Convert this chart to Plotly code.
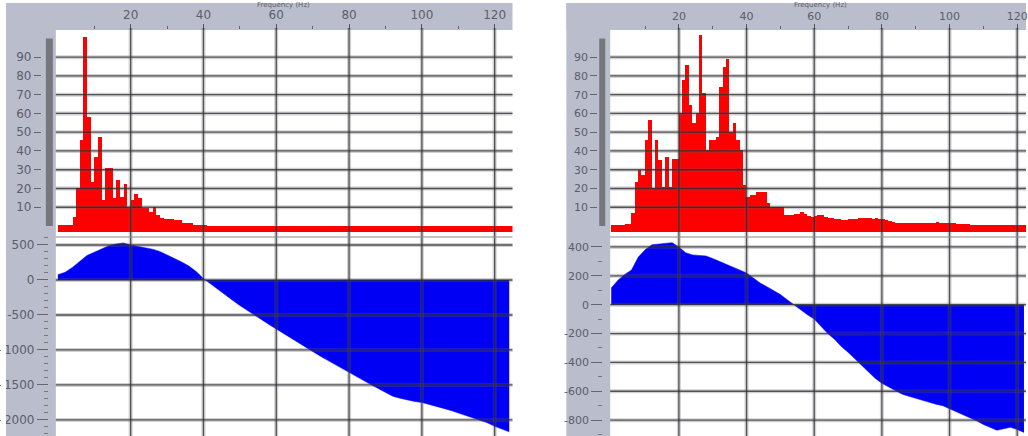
import plotly.graph_objects as go

W, H = 1028, 436

# ---------------- data ----------------
AXIS_TITLE = "Frequency (Hz)"

FREQ_TICKS = [20, 40, 60, 80, 100, 120]
FREQ_TICK_LABELS = ["20", "40", "60", "80", "100", "120"]
FREQ_MINOR_TICKS = [10, 30, 50, 70, 90, 110]

COUNT_TICKS = [10, 20, 30, 40, 50, 60, 70, 80, 90]
COUNT_TICK_LABELS = ["10", "20", "30", "40", "50", "60", "70", "80", "90"]

LEFT_PHASE_TICKS = [500, 0, -500, -1000, -1500, -2000]
LEFT_PHASE_LABELS = ["500", "0", "-500", "-1000", "-1500", "-2000"]
RIGHT_PHASE_TICKS = [400, 200, 0, -200, -400, -600, -800]
RIGHT_PHASE_LABELS = ["400", "200", "0", "-200", "-400", "-600", "-800"]

# histogram counts, 1 Hz bins starting at 0 Hz
LEFT_COUNTS = [
    0.3, 0.4, 0.5, 0.8, 5.0, 20.0, 46.0, 101.0, 58.0, 23.6,
    37.0, 47.6, 14.0, 30.8, 30.8, 15.0, 24.5, 15.6, 22.4, 10.3,
    13.9, 16.9, 14.8, 9.4, 9.4, 7.6, 10.3, 5.9, 4.2, 4.0,
    4.0, 3.8, 3.2, 3.2, 1.8, 1.8, 1.8, 0.5, 0.5, 0.5,
    0.3, 0.2, 0.2, 0.2, 0.2, 0.2, 0.1, 0.1, 0.1, 0.1,
    0.1, 0.1, 0.1, 0.1, 0.1, 0.1, 0.1, 0.1, 0.1, 0.1,
    0.1, 0.1, 0.1, 0.1, 0.1, 0.1, 0.1, 0.1, 0.1, 0.1,
    0.1, 0.1, 0.1, 0.1, 0.1, 0.1, 0.1, 0.1, 0.1, 0.1,
    0.1, 0.1, 0.1, 0.1, 0.1, 0.1, 0.1, 0.1, 0.1, 0.1,
    0.1, 0.1, 0.1, 0.1, 0.1, 0.1, 0.1, 0.1, 0.1, 0.1,
    0.0, 0.0, 0.0, 0.0, 0.0, 0.0, 0.0, 0.0, 0.0, 0.0,
    0.0, 0.0, 0.0, 0.0, 0.0, 0.0, 0.0, 0.0, 0.0, 0.0,
    0.0, 0.0, 0.0, 0.0, 0.0,
]

RIGHT_COUNTS = [
    0.5, 0.6, 0.7, 0.8, 1.0, 1.2, 6.7, 23.6, 30.0, 27.0,
    46.0, 56.5, 20.0, 46.0, 35.0, 21.0, 37.0, 21.0, 35.5, 35.5,
    60.0, 78.0, 86.0, 64.5, 55.0, 60.0, 102.0, 71.0, 40.5, 46.0,
    46.0, 47.6, 74.0, 85.0, 89.0, 50.0, 55.0, 46.0, 40.5, 22.0,
    15.6, 16.5, 16.5, 18.3, 18.3, 18.3, 12.0, 10.3, 10.3, 10.3,
    10.3, 5.9, 5.9, 5.9, 6.2, 6.5, 7.6, 6.5, 5.5, 5.0,
    5.5, 5.9, 5.9, 5.0, 4.5, 4.1, 3.8, 3.5, 3.2, 3.3,
    3.5, 3.8, 4.0, 4.1, 4.1, 4.3, 4.1, 4.0, 4.1, 4.0,
    3.5, 3.0, 2.5, 2.0, 1.8, 1.8, 1.7, 1.6, 1.6, 1.5,
    1.5, 1.5, 1.6, 1.7, 1.8, 1.8, 1.9, 1.8, 1.8, 1.8,
    1.7, 1.5, 1.3, 1.1, 1.0, 0.9, 0.8, 0.6, 0.5, 0.5,
    0.5, 0.5, 0.4, 0.4, 0.4, 0.4, 0.4, 0.3, 0.3, 0.3,
    0.3, 0.3, 0.3,
]

# phase curves, sampled every 2 Hz starting at 0 Hz
LEFT_PHASE = [
    75, 110, 180, 260, 350, 395, 445, 490, 515, 530,
    500, 480, 462, 440, 408, 360, 310, 258, 200, 120,
    20, -60, -140, -215, -290, -365, -435, -505, -570, -635,
    -700, -765, -830, -900, -960, -1025, -1085, -1145, -1205, -1265,
    -1325, -1385, -1440, -1495, -1550, -1600, -1660, -1690, -1715, -1735,
    -1750, -1775, -1805, -1835, -1865, -1900, -1945, -1975, -2005, -2040,
    -2090, -2130, -2170,
]

RIGHT_PHASE = [
    115, 170, 210, 240, 330, 380, 415, 420, 425, 430,
    400, 360, 345, 340, 338, 320, 300, 282, 265, 240,
    220, 185, 150, 125, 100, 70, 35, 0, -40, -70,
    -100, -150, -200, -240, -290, -330, -375, -420, -460, -510,
    -545, -570, -600, -620, -635, -650, -665, -675, -690, -700,
    -720, -740, -760, -780, -805, -830, -850, -870, -860, -850,
    -865, -885,
]

# ---------------- styling ----------------
RED = "#ff0000"
BLUE = "#0000f4"
FRAME = "#b9bdcc"
TXT = "#5d5e6b"
FONT = "DejaVu Sans"
BAR_FLOOR = -3.2


def px(xp):
    return xp / W


def py(yp):
    return 1 - yp / H


fig = go.Figure()

panels = [
    dict(xa="x", ya="y", xb="x2", yb="y2", counts=LEFT_COUNTS, phase=LEFT_PHASE,
         left=55, right=513, frame_left=5, xrange=[-0.55, 124.9],
         cnt_pos=40, bar=(45, 52), ph_pos=47, ph_range=[-2229, 614],
         ph_ticks=LEFT_PHASE_TICKS, ph_labels=LEFT_PHASE_LABELS, fs=12),
    dict(xa="x3", ya="y3", xb="x4", yb="y4", counts=RIGHT_COUNTS, phase=RIGHT_PHASE,
         left=611, right=1028, frame_left=567, xrange=[-0.3, 122.6],
         cnt_pos=598, bar=(600, 606), ph_pos=603, ph_range=[-910, 469],
         ph_ticks=RIGHT_PHASE_TICKS, ph_labels=RIGHT_PHASE_LABELS, fs=11),
]

TOP_T, TOP_B = 30, 232
BOT_T, BOT_B = 237, 436

shapes = []
annotations = []
layout_axes = {}

for i, p in enumerate(panels):
    n = 2 * i
    xa_name = "xaxis" + ("" if n == 0 else str(n + 1))
    ya_name = "yaxis" + ("" if n == 0 else str(n + 1))
    xb_name = "xaxis" + str(n + 2)
    yb_name = "yaxis" + str(n + 2)
    dom = [px(p["left"]), px(p["right"])]

    fig.add_trace(go.Bar(
        x0=0.5, dx=1,
        y=[c - BAR_FLOOR for c in p["counts"]], base=BAR_FLOOR,
        marker=dict(color=RED, line=dict(width=0)),
        xaxis=p["xa"], yaxis=p["ya"], hoverinfo="skip",
    ))
    fig.add_trace(go.Scatter(
        x0=0, dx=2, y=p["phase"], mode="lines",
        line=dict(color=BLUE, width=0.5), fill="tozeroy", fillcolor=BLUE,
        xaxis=p["xb"], yaxis=p["yb"], hoverinfo="skip",
    ))

    tickfont = dict(family=FONT, size=p["fs"], color=TXT)
    layout_axes[xa_name] = dict(
        domain=dom, range=p["xrange"], anchor=p["ya"], side="top",
        tickvals=FREQ_TICKS, ticktext=FREQ_TICK_LABELS,
        ticks="outside", ticklen=5, tickwidth=1, tickcolor="#555",
        ticklabelstandoff=0, ticklabeloverflow="allow",
        minor=dict(tickvals=FREQ_MINOR_TICKS, ticks="outside", ticklen=3,
                   tickcolor="#666", showgrid=False),
        showgrid=False, zeroline=False, showline=False, tickfont=tickfont,
    )
    layout_axes[ya_name] = dict(
        domain=[py(TOP_B), py(TOP_T)], range=[BAR_FLOOR, 104.5],
        anchor="free", position=px(p["cnt_pos"]),
        tickvals=COUNT_TICKS, ticktext=COUNT_TICK_LABELS,
        ticks="outside", ticklen=7, tickcolor="#666",
        showgrid=False, zeroline=False, showline=False, tickfont=tickfont,
    )
    layout_axes[xb_name] = dict(
        domain=dom, range=p["xrange"], anchor=p["yb"], matches=p["xa"],
        showticklabels=False, ticks="", showgrid=False, zeroline=False, showline=False,
    )
    layout_axes[yb_name] = dict(
        domain=[py(BOT_B), py(BOT_T)], range=p["ph_range"],
        anchor="free", position=px(p["ph_pos"]),
        tickvals=p["ph_ticks"], ticktext=p["ph_labels"],
        ticks="outside", ticklen=11, tickcolor="#666",
        minor=dict(dtick=100, tick0=0, ticks="outside", ticklen=4,
                   tickcolor="#777", showgrid=False),
        showgrid=False, zeroline=False, showline=False, tickfont=tickfont,
    )

    # grey frame (left band + top band)
    shapes.append(dict(type="rect", xref="paper", yref="paper", layer="below",
                       x0=px(p["frame_left"]), x1=px(p["left"]),
                       y0=py(H), y1=py(3), fillcolor=FRAME, line=dict(width=0)))
    shapes.append(dict(type="rect", xref="paper", yref="paper", layer="below",
                       x0=px(p["frame_left"]), x1=px(p["right"]),
                       y0=py(TOP_T), y1=py(3), fillcolor=FRAME, line=dict(width=0)))
    # dark scale bar beside the count axis
    shapes.append(dict(type="rect", xref="paper", yref=p["ya"], layer="above",
                       x0=px(p["bar"][0]), x1=px(p["bar"][1]), y0=0, y1=100,
                       fillcolor="#76767f", line=dict(width=0)))

    # grid drawn above the marks (translucent so it darkens the fills)
    def gl(**kw):
        shapes.append(dict(type="line", layer="above",
                           line=dict(color="rgba(90,90,100,0.28)", width=4), **kw))
        shapes.append(dict(type="line", layer="above",
                           line=dict(color="rgba(40,40,40,0.75)", width=1.3), **kw))

    for v in COUNT_TICKS:
        gl(xref=p["xa"] + " domain", yref=p["ya"], x0=0, x1=1, y0=v, y1=v)
    for v in p["ph_ticks"]:
        gl(xref=p["xb"] + " domain", yref=p["yb"], x0=0, x1=1, y0=v, y1=v)
    for v in FREQ_TICKS:
        gl(xref=p["xa"], yref="paper", x0=v, x1=v, y0=py(H), y1=py(TOP_T - 2))
    # top border of the lower plot
    shapes.append(dict(type="line", layer="above", xref=p["xb"] + " domain",
                       yref=p["yb"] + " domain", x0=0, x1=1, y0=1, y1=1,
                       line=dict(color="#8a8a8a", width=1.2)))

    # axis title squeezed into the thin strip above the tick labels
    annotations.append(dict(text=AXIS_TITLE, xref=p["xa"], x=62, yref="paper",
                            y=py(0), yanchor="top", yshift=1, showarrow=False,
                            font=dict(family=FONT, size=7, color=TXT)))

# white strip clipping the far-left labels like the cropped original
shapes.append(dict(type="rect", xref="paper", yref="paper", layer="above",
                   x0=0, x1=px(5), y0=0, y1=1, fillcolor="white", line=dict(width=0)))

fig.update_layout(
    width=W, height=H, margin=dict(l=0, r=0, t=0, b=0),
    paper_bgcolor="white", plot_bgcolor="white",
    showlegend=False, bargap=0, shapes=shapes, annotations=annotations,
    **layout_axes,
)

fig.write_html("out.html")
